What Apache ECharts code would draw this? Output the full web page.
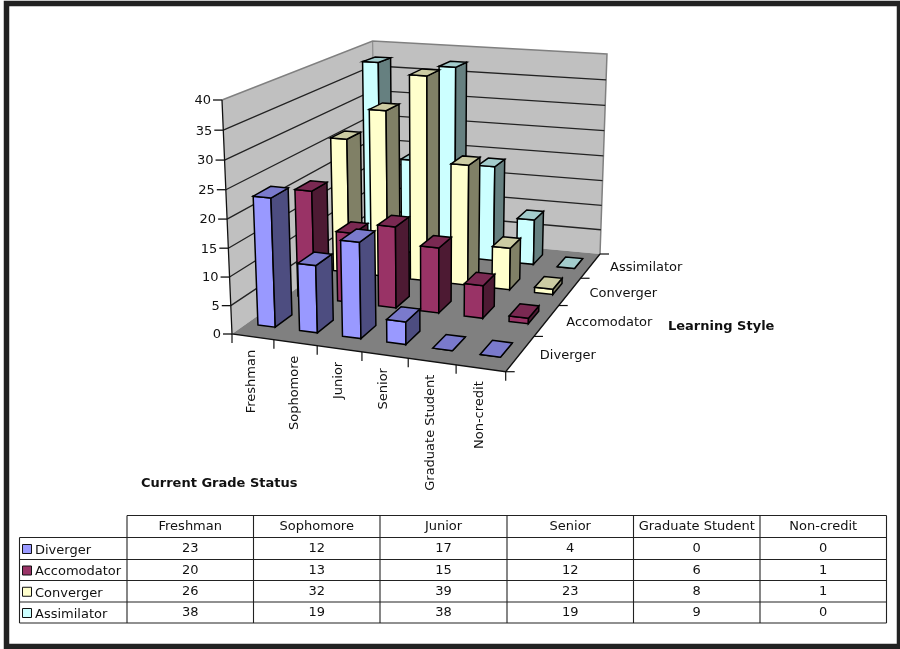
<!DOCTYPE html>
<html>
<head>
<meta charset="utf-8">
<style>html,body{margin:0;padding:0;background:#fff}#c{width:900px;height:649px}</style>
<script src="https://cdn.jsdelivr.net/npm/echarts@6/dist/echarts.min.js"></script>
</head>
<body>
<div id="c"></div>
<script>
// ---- data ----
const categories = ['Freshman','Sophomore','Junior','Senior','Graduate Student','Non-credit'];
const styles = ['Diverger','Accomodator','Converger','Assimilator'];
const diverger = [23,12,17,4,0,0];
const accomodator = [20,13,15,12,6,1];
const converger = [26,32,39,23,8,1];
const assimilator = [38,19,38,19,9,0];
const valueTicks = [0,5,10,15,20,25,30,35,40];
const xAxisName = 'Current Grade Status';
const depthAxisName = 'Learning Style';

// ---- styling ----
const seriesValues = [diverger, accomodator, converger, assimilator];
const palette = [
  {front:'#9999FF', side:'#4D4D80', top:'#7A7ACC'},
  {front:'#993366', side:'#4D1A33', top:'#7A2952'},
  {front:'#FFFFCC', side:'#808066', top:'#CCCCA3'},
  {front:'#CCFFFF', side:'#668080', top:'#A3CCCC'}
];
const FONT = '"DejaVu Sans"';

// ---- camera calibration: floor quad, wall height, vertical vanishing point ----
const floorFL=[232,334], floorFR=[505.7,371.7], floorBR=[600,254], floorBL=[375,233];
const wallH={FL:234, FR:244, BR:200, BL:192};
const vanish=[433,5034];
const heightPerspective=0.035;
const GRID={left:100,top:100,width:600,height:400};
const BAR_U=[0.27,0.69], BAR_V=[0.34,0.75], BAR_HEIGHT=0.985;

function makeHomography(p0,p1,p2,p3){ // (0,0),(1,0),(1,1),(0,1)
  const dx1=p1[0]-p2[0],dx2=p3[0]-p2[0],sx=p0[0]-p1[0]+p2[0]-p3[0];
  const dy1=p1[1]-p2[1],dy2=p3[1]-p2[1],sy=p0[1]-p1[1]+p2[1]-p3[1];
  const det=dx1*dy2-dx2*dy1;
  const g=(sx*dy2-dx2*sy)/det,h=(dx1*sy-sx*dy1)/det;
  const a=p1[0]-p0[0]+g*p1[0],b=p3[0]-p0[0]+h*p3[0],c=p0[0];
  const d=p1[1]-p0[1]+g*p1[1],e=p3[1]-p0[1]+h*p3[1],f=p0[1];
  return (u,v)=>{const w=g*u+h*v+1;return [(a*u+b*v+c)/w,(d*u+e*v+f)/w];};
}
const floorMap=makeHomography(floorFL,floorFR,floorBR,floorBL);
// u: along grade axis 0..1, v: depth 0..1, t: value fraction of axis 0..1
function project(u,v,t){
  const P=floorMap(u,v);
  const k=heightPerspective, tp=t*(1-k)/(1-k*t);
  const H=(wallH.FL*(1-u)*(1-v)+wallH.FR*u*(1-v)+wallH.BR*u*v+wallH.BL*(1-u)*v)*tp;
  return [P[0]+(P[0]-vanish[0])/(vanish[1]-P[1])*H, P[1]-H];
}
// read positions through the library's scales
function uOf(api,i,off){ const x=api.coord([i,0])[0]; const bw=api.size([1,0])[0]; return (x+ (off-0.5)*bw-GRID.left)/GRID.width; }
function tOf(api,val){ return (GRID.top+GRID.height-api.coord([0,val])[1])/GRID.height; }
function poly(pts,fill,stroke,lw){ return {type:'polygon',shape:{points:pts},style:{fill:fill,stroke:stroke||'none',lineWidth:lw||1,lineJoin:'miter'},silent:true}; }
function line(pts,color,lw){ return {type:'polyline',shape:{points:pts},style:{stroke:color||'#000',fill:'none',lineWidth:lw||1},silent:true}; }
function txt(s,x,y,opt){ opt=opt||{}; return {type:'text',x:x,y:y,rotation:opt.rot||0,silent:true,style:{text:s,x:0,y:0,fill:'#111',font:(opt.bold?'bold ':'')+(opt.size||13)+'px '+FONT,align:opt.align||'left',verticalAlign:'middle'}}; }

const series=[];
// walls and floor
series.push({type:'custom',name:'walls',xAxisIndex:0,yAxisIndex:0,silent:true,data:[[0,0]],encode:{x:0,y:1},
  renderItem:function(){
    const q=(a)=>a.map(p=>project(p[0],p[1],p[2]));
    return {type:'group',children:[
      poly(q([[0,0,0],[0,0,1],[0,1,1],[0,1,0]]),'#C0C0C0'),
      poly(q([[0,1,0],[0,1,1],[1,1,1],[1,1,0]]),'#C0C0C0'),
      line(q([[0,0,1],[0,1,1],[1,1,1],[1,1,0]]),'#808080',1.5),
      line(q([[0,1,1],[0,1,0]]),'#808080',1),
      poly(q([[0,0,0],[1,0,0],[1,1,0],[0,1,0]]),'#808080')
    ]};
  }});
// value axis: gridlines, ticks and labels
series.push({type:'custom',name:'valueAxis',xAxisIndex:0,yAxisIndex:0,silent:true,
  data:valueTicks.map(t=>[0,t]),encode:{x:0,y:1},
  renderItem:function(p,api){
    const val=api.value(1), t=tOf(api,val);
    const a=project(0,0,t),b=project(0,1,t),c=project(1,1,t);
    const kids=[line([[a[0]-9,a[1]],a],'#111',1.3),txt(String(val),a[0]-11,a[1]+1,{align:'right',size:13})];
    if(val>0&&val<valueTicks[valueTicks.length-1]) kids.push(line([a,b,c],'#222',1.3));
    return {type:'group',children:kids};
  }});
// left axis line + floor axes
series.push({type:'custom',name:'axisLines',xAxisIndex:0,yAxisIndex:0,silent:true,data:[[0,0]],encode:{x:0,y:1},
  renderItem:function(){
    const a=project(0,0,0),b=project(0,0,1),c=project(1,0,0),d=project(1,1,0);
    return {type:'group',children:[line([b,a,c,d],'#111',1.3)]};
  }});
// grade axis ticks + labels
series.push({type:'custom',name:'gradeAxis',xAxisIndex:0,yAxisIndex:0,silent:true,
  data:categories.map((c,i)=>[i,0]),encode:{x:0,y:1},
  renderItem:function(p,api){
    const i=api.value(0);
    const e=project(uOf(api,i,1),0,0), l=project(uOf(api,i,0),0,0), m=project(uOf(api,i,0.5),0,0);
    const kids=[line([e,[e[0],e[1]+9]],'#111',1.2),txt(categories[i],m[0]-1,m[1]+13,{rot:Math.PI/2,align:'right'})];
    if(i===0) kids.push(line([l,[l[0],l[1]+9]],'#111',1.2));
    return {type:'group',children:kids};
  }});
// depth axis ticks + labels
series.push({type:'custom',name:'styleAxis',xAxisIndex:0,yAxisIndex:0,silent:true,
  data:styles.map((c,i)=>[i,0]),encode:{x:0,y:1},
  renderItem:function(p,api){
    const i=api.value(0), n=styles.length;
    const e=project(1,i/n,0), m=project(1,(i+0.5)/n,0);
    const kids=[line([e,[e[0]+9,e[1]]],'#111',1.2),txt(styles[i],m[0]+19.5,m[1]+2,{})];
    if(i===n-1){const z=project(1,1,0);kids.push(line([z,[z[0]+9,z[1]]],'#111',1.2));}
    return {type:'group',children:kids};
  }});
// bars, back row first
for(let s=styles.length-1;s>=0;s--){
  const col=palette[s], n=styles.length;
  series.push({type:'custom',name:styles[s],xAxisIndex:0,yAxisIndex:0,silent:true,
    data:seriesValues[s].map((val,i)=>[i,val]),encode:{x:0,y:1},
    renderItem:function(p,api){
      const i=api.value(0), t=tOf(api,api.value(1))*BAR_HEIGHT;
      const u0=uOf(api,i,BAR_U[0]),u1=uOf(api,i,BAR_U[1]);
      const v0=(s+BAR_V[0])/n,v1=(s+BAR_V[1])/n;
      const A=project(u0,v0,0),B=project(u1,v0,0),C=project(u1,v1,0);
      const a=project(u0,v0,t),b=project(u1,v0,t),c=project(u1,v1,t),d=project(u0,v1,t);
      const st='#000',lw=1.5;
      return {type:'group',children:[
        poly([A,B,b,a],col.front,st,lw),
        poly([B,C,c,b],col.side,st,lw),
        poly([a,b,c,d],col.top,st,lw)
      ]};
    }});
}

// ---- table + frame + axis names ----
const colX=[127,253.5,380,507,633.5,760,886.5];
const rowY=[515.5,537.5,559.5,580.5,602,623];
const legendLeft=19.5;
const g=[];
g.push({type:'rect',shape:{x:6.5,y:3.5,width:893,height:643},style:{fill:'#fff',stroke:'#222',lineWidth:5.5},z:-10,silent:true});
function L(x1,y1,x2,y2){g.push({type:'line',shape:{x1,y1,x2,y2},style:{stroke:'#222',lineWidth:1.1},silent:true});}
L(colX[0],rowY[0],colX[6],rowY[0]);
for(let r=1;r<rowY.length;r++) L(legendLeft,rowY[r],colX[6],rowY[r]);
colX.forEach(x=>L(x,rowY[0],x,rowY[5]));
L(legendLeft,rowY[1],legendLeft,rowY[5]);
function T(s,x,y,align,opt){opt=opt||{};g.push({type:'text',x:x,y:y,silent:true,style:{text:s,fill:'#111',font:(opt.bold?'bold ':'')+(opt.size||13)+'px '+FONT,align:align,verticalAlign:'middle'}});}
categories.forEach((c,i)=>T(c,(colX[i]+colX[i+1])/2,(rowY[0]+rowY[1])/2+0.5,'center'));
styles.forEach((name,r)=>{
  const cy=(rowY[r+1]+rowY[r+2])/2;
  g.push({type:'rect',shape:{x:22.5,y:cy-4,width:9,height:9},style:{fill:palette[r].front,stroke:'#111',lineWidth:1},silent:true});
  T(name,35,cy+2,'left');
  seriesValues[r].forEach((val,i)=>T(String(val),(colX[i]+colX[i+1])/2,cy+0.5,'center'));
});
T(xAxisName,141,484,'left',{bold:true,size:13});
T(depthAxisName,668,327,'left',{bold:true,size:13});

const chart=echarts.init(document.getElementById('c'),null,{renderer:'canvas'});
chart.setOption({
  animation:false,
  backgroundColor:'#fff',
  grid:GRID,
  xAxis:{type:'category',data:categories,show:false},
  yAxis:{type:'value',min:0,max:40,interval:5,show:false},
  series:series,
  graphic:{elements:g}
});
</script>
</body>
</html>
